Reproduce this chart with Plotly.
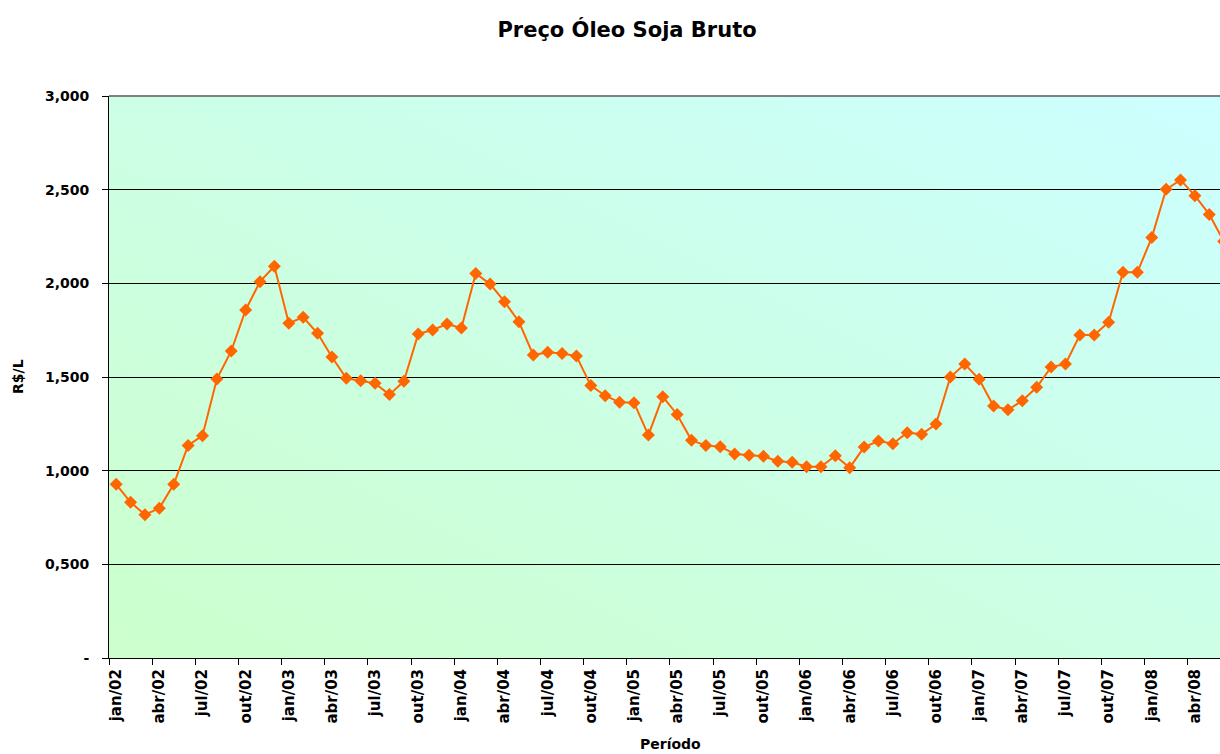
import base64
import plotly.graph_objects as go

# ---- data ----
month_abbr = ["jan", "fev", "mar", "abr", "mai", "jun", "jul", "ago", "set", "out", "nov", "dez"]
years = [2, 3, 4, 5, 6, 7, 8]
categories = [f"{m}/{y:02d}" for y in years for m in month_abbr][:78]

prices = [
    0.927, 0.831, 0.765, 0.799, 0.927, 1.135, 1.187, 1.489, 1.639, 1.858, 2.009, 2.091, 1.787,
    1.819, 1.733, 1.607, 1.493, 1.480, 1.466, 1.406, 1.477, 1.730, 1.751, 1.783, 1.762, 2.053, 1.996,
    1.902, 1.795, 1.617, 1.632, 1.626, 1.612, 1.454, 1.400, 1.365, 1.363, 1.190, 1.395, 1.300,
    1.162, 1.135, 1.128, 1.089, 1.082, 1.077, 1.050, 1.045, 1.021, 1.021, 1.080, 1.016, 1.126,
    1.158, 1.144, 1.203, 1.194, 1.249, 1.500, 1.569, 1.488, 1.345, 1.325, 1.373, 1.445, 1.553,
    1.569, 1.724, 1.724, 1.792, 2.059, 2.059, 2.244, 2.502, 2.552, 2.468, 2.368, 2.224,
]

y_tickvals = [0, 0.5, 1.0, 1.5, 2.0, 2.5, 3.0]
y_ticktext = ["-", "0,500", "1,000", "1,500", "2,000", "2,500", "3,000"]

title_text = "Preço Óleo Soja Bruto"
x_title = "Período"
y_title = "R$/L"

# ---- figure ----
FONT = "DejaVu Sans"
W, H = 1220, 754
ML, MR, MT, MB = 109, 0, 96, 96
PW, PH = W - ML - MR, H - MT - MB

svg = ('<svg xmlns="http://www.w3.org/2000/svg" width="100" height="100" viewBox="0 0 100 100" '
       'preserveAspectRatio="none"><defs><linearGradient id="g" x1="0" y1="1" x2="1" y2="0">'
       '<stop offset="0" stop-color="#CCFFCC"/><stop offset="1" stop-color="#CCFFFF"/>'
       '</linearGradient></defs><rect width="100" height="100" fill="url(#g)"/></svg>')
bg_src = "data:image/svg+xml;base64," + base64.b64encode(svg.encode()).decode()

fig = go.Figure()
fig.add_trace(go.Scatter(
    x=categories, y=prices, mode="lines+markers",
    line=dict(color="#FF6600", width=2),
    marker=dict(symbol="diamond", size=10, color="#FF6600", line=dict(width=0)),
    hoverinfo="x+y",
    showlegend=False,
))

fig.update_layout(
    width=W, height=H,
    margin=dict(l=ML, r=MR, t=MT, b=MB, pad=0),
    paper_bgcolor="white",
    plot_bgcolor="#CCFFEE",
    font=dict(family=FONT, color="black"),
    title=dict(text=f"<b>{title_text}</b>", x=627 / W, xanchor="center",
               y=1 - 30 / H, yanchor="middle", yref="container",
               font=dict(family=FONT, size=21, color="black")),
    images=[dict(source=bg_src, xref="paper", yref="paper", x=0, y=1, sizex=1, sizey=1,
                 sizing="stretch", layer="below")],
    xaxis=dict(
        type="category",
        range=[-0.5, 76.745],
        tickmode="linear", tick0=0, dtick=3,
        tickson="boundaries",
        ticks="outside", ticklen=6, tickcolor="black", tickwidth=1,
        tickangle=-90,
        tickfont=dict(family=FONT, size=15, color="black", weight="bold"),
        showgrid=False,
        showline=True, linecolor="black", linewidth=1,
        zeroline=False,
        ticklabelstandoff=4,
    ),
    yaxis=dict(
        range=[0, 3],
        tickmode="array", tickvals=y_tickvals, ticktext=y_ticktext,
        ticks="outside", ticklen=6, tickcolor="black", tickwidth=1,
        tickfont=dict(family=FONT, size=14, color="black", weight="bold"),
        showgrid=True, gridcolor="black", gridwidth=1,
        showline=True, linecolor="black", linewidth=1,
        zeroline=False,
        ticklabelstandoff=10,
    ),
    shapes=[dict(type="line", xref="paper", yref="paper", x0=0, x1=1, y0=1, y1=1,
                 line=dict(color="#808080", width=2), layer="above")],
    annotations=[
        dict(text=f"<b>{y_title}</b>", xref="paper", yref="paper",
             x=(18 - ML) / PW, y=0.5, xanchor="center", yanchor="middle",
             textangle=-90, showarrow=False, font=dict(family=FONT, size=14, color="black")),
        dict(text=f"<b>{x_title}</b>", xref="paper", yref="paper",
             x=(670 - ML) / PW, y=-(744 - MT - PH) / PH,
             xanchor="center", yanchor="middle",
             showarrow=False, font=dict(family=FONT, size=14, color="black")),
    ],
)

fig.write_html(
    "out.html",
    config={"displayModeBar": False},
    post_script="document.body.style.margin='0';document.body.style.overflow='hidden';",
)
